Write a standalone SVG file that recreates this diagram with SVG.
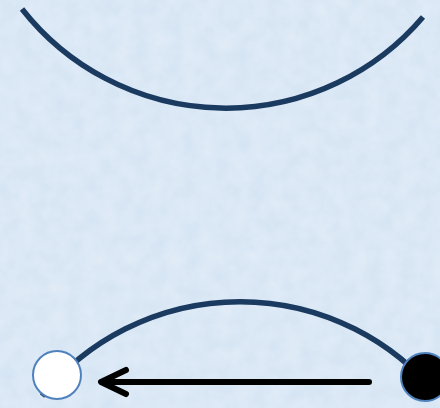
<svg xmlns="http://www.w3.org/2000/svg" width="440" height="408" viewBox="0 0 440 408">
  <defs>
    <filter id="tex" x="0" y="0" width="100%" height="100%">
      <feTurbulence type="fractalNoise" baseFrequency="0.06" numOctaves="3" seed="4" result="n"/>
      <feColorMatrix in="n" type="matrix" values="0 0 0 0 1  0 0 0 0 1  0 0 0 0 1  0 0 0 0.35 0"/>
    </filter>
  </defs>
  <style>
    .arc { fill: none; stroke: #1b3a60; stroke-width: 5.5; }
    .node { stroke: #4f81bd; stroke-width: 2; }
    .arrow { fill: none; stroke: #000; stroke-width: 6; stroke-linejoin: round; stroke-linecap: round; }
  </style>
  <rect width="440" height="408" fill="#d3e3f3"/>
  <rect width="440" height="408" filter="url(#tex)"/>
  <g id="connectors">
    <path class="arc" d="M 22 9 A 259 259 0 0 0 423 17"/>
    <path class="arc" d="M 42 396 A 255 255 0 0 1 438 396"/>
    <path class="arrow" d="M 369 382 L 102 382"/>
    <polyline class="arrow" points="126,370 101,382 126,394"/>
  </g>
  <g id="node-white">
    <circle class="node" cx="57" cy="375" r="24" fill="#ffffff"/>
  </g>
  <g id="node-black">
    <circle class="node" cx="425" cy="377" r="24" fill="#000000"/>
  </g>
</svg>
